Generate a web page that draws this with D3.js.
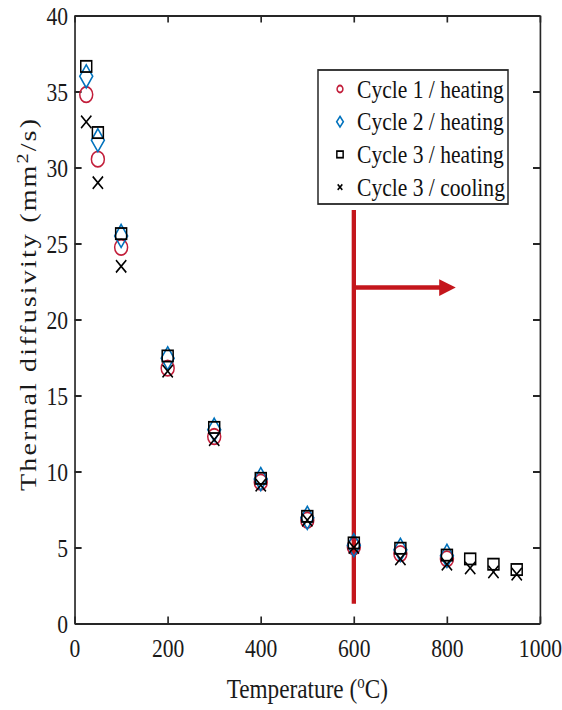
<!DOCTYPE html>
<html>
<head>
<meta charset="utf-8">
<script src="https://cdn.jsdelivr.net/npm/d3@7/dist/d3.min.js"></script>
<style>
  html, body { margin: 0; padding: 0; background: #fff; }
  svg { display: block; }
  text { font-family: "Liberation Serif", "Times New Roman", serif; }
</style>
</head>
<body>
<svg id="chart" width="562" height="710"></svg>
<script>
// ---------- data ----------
const temps = [25, 50, 100, 200, 300, 400, 500, 600, 700, 800];
const temps3 = [25, 50, 100, 200, 300, 400, 500, 600, 700, 800, 850, 900, 950];
const cycle1Heating = [34.8, 30.55, 24.75, 16.8, 12.3, 9.3, 6.8, 5.05, 4.6, 4.25];
const cycle2Heating = [36.0, 31.8, 25.5, 17.45, 12.75, 9.5, 6.95, 5.15, 4.85, 4.45];
const cycle3Heating = [36.65, 32.3, 25.65, 17.6, 12.9, 9.55, 7.05, 5.3, 4.95, 4.5, 4.25, 3.9, 3.55];
const cycle3Cooling = [33.0, 29.0, 23.5, 16.6, 12.1, 9.1, 6.8, 5.0, 4.25, 3.9, 3.65, 3.4, 3.25];
const xTicks = [0, 200, 400, 600, 800, 1000];
const yTicks = [0, 5, 10, 15, 20, 25, 30, 35, 40];
const seriesNames = ["Cycle 1 / heating", "Cycle 2 / heating", "Cycle 3 / heating", "Cycle 3 / cooling"];
// annotation arrow (data units): vertical line at 600 °C, horizontal arrow pointing right
const arrowSpec = [600, 1.3, 27.2, 22.1, 819];

function drawChart() {
  var SX = 0.83; // horizontal squeeze of the reference picture
  var AXC = "#262626";
  var RED = "#c21e3a";
  var BLUE = "#0072bd";
  var ARED = "#c4161c";
  var FONT = '"Liberation Serif", "Times New Roman", serif';

  var svg = d3.select("#chart");
  var g = svg.append("g").attr("transform", "scale(" + SX + ",1)");

  var x = d3.scaleLinear().domain([0, 1000]).range([74.6 / SX, 540 / SX]);
  var y = d3.scaleLinear().domain([0, 40]).range([623.5, 15.5]);
  var fmt = d3.format("d");

  var axB = g.append("g").attr("transform", "translate(0," + y(0) + ")")
    .call(d3.axisBottom(x).tickValues(xTicks).tickFormat(fmt).tickSizeInner(-7).tickSizeOuter(0).tickPadding(15));
  var axT = g.append("g").attr("transform", "translate(0," + y(40) + ")")
    .call(d3.axisTop(x).tickValues(xTicks).tickSizeInner(-7).tickSizeOuter(0).tickFormat(function () { return ""; }));
  var axL = g.append("g").attr("transform", "translate(" + x(0) + ",0)")
    .call(d3.axisLeft(y).tickValues(yTicks).tickFormat(fmt).tickSizeInner(-7 / SX).tickSizeOuter(0).tickPadding(8));
  var axR = g.append("g").attr("transform", "translate(" + x(1000) + ",0)")
    .call(d3.axisRight(y).tickValues(yTicks).tickSizeInner(-7 / SX).tickSizeOuter(0).tickFormat(function () { return ""; }));

  [axB, axT, axL, axR].forEach(function (a) {
    a.attr("font-family", FONT).attr("font-size", 26);
    a.select(".domain").attr("stroke", AXC).attr("stroke-width", 2);
    a.selectAll(".tick line").attr("stroke", AXC).attr("stroke-width", 2);
    a.selectAll(".tick text").attr("fill", "#1a1a1a");
  });
  axL.selectAll(".tick text").attr("dy", "0.34em");

  // axis labels
  var xl = g.append("text")
    .attr("x", (x(0) + x(1000)) / 2)
    .attr("y", 698)
    .attr("text-anchor", "middle")
    .attr("font-family", FONT)
    .attr("font-size", 28)
    .attr("fill", "#1a1a1a");
  xl.append("tspan").text("Temperature (");
  xl.append("tspan").text("o").attr("font-size", 18).attr("dy", -10);
  xl.append("tspan").text("C)").attr("dy", 10);

  var yl = g.append("text")
    .attr("transform", "translate(" + (36 / SX) + ",305) rotate(-90)")
    .attr("text-anchor", "middle")
    .attr("font-family", FONT)
    .attr("font-size", 28)
    .attr("fill", "#1a1a1a")
    .attr("textLength", 372)
    .attr("lengthAdjust", "spacing");
  yl.append("tspan").text("Thermal diffusivity (mm");
  yl.append("tspan").text("2").attr("font-size", 20).attr("dy", -10);
  yl.append("tspan").text("/s)").attr("dy", 10);

  function drawCircle(sel, r, color) {
    sel.append("circle").attr("r", r).attr("fill", "none").attr("stroke", color).attr("stroke-width", 1.8);
  }
  function drawDiamond(sel, hw, hh, color) {
    sel.append("path").attr("d", "M0," + (-hh) + "L" + hw + ",0L0," + hh + "L" + (-hw) + ",0Z")
      .attr("fill", "none").attr("stroke", color).attr("stroke-width", 1.8);
  }
  function drawSquare(sel, hw, hh, color) {
    sel.append("rect").attr("x", -hw).attr("y", -hh).attr("width", 2 * hw).attr("height", 2 * hh)
      .attr("fill", "none").attr("stroke", color).attr("stroke-width", 1.8);
  }
  function drawCross(sel, h, color) {
    sel.append("path").attr("d", "M" + (-h) + "," + (-h) + "L" + h + "," + h + "M" + (-h) + "," + h + "L" + h + "," + (-h))
      .attr("fill", "none").attr("stroke", color).attr("stroke-width", 1.8);
  }

  // annotation arrow
  var ax0 = arrowSpec[0], ay0 = arrowSpec[1], ay1 = arrowSpec[2], ahy = arrowSpec[3], atip = arrowSpec[4];
  var arrG = g.append("g");
  arrG.append("line")
    .attr("x1", x(ax0)).attr("x2", x(ax0))
    .attr("y1", y(ay0)).attr("y2", y(ay1))
    .attr("stroke", ARED).attr("stroke-width", 5.2);
  var headLen = 20;
  arrG.append("line")
    .attr("x1", x(ax0)).attr("x2", x(atip) - headLen + 2)
    .attr("y1", y(ahy)).attr("y2", y(ahy))
    .attr("stroke", ARED).attr("stroke-width", 4.5);
  arrG.append("path")
    .attr("d", "M" + x(atip) + "," + y(ahy) + "L" + (x(atip) - headLen) + "," + (y(ahy) - 8.3) + "L" + (x(atip) - headLen) + "," + (y(ahy) + 8.3) + "Z")
    .attr("fill", ARED);

  // data marks
  var s1 = temps.map(function (t, i) { return { t: t, v: cycle1Heating[i] }; });
  var s2 = temps.map(function (t, i) { return { t: t, v: cycle2Heating[i] }; });
  var s3 = temps3.map(function (t, i) { return { t: t, v: cycle3Heating[i] }; });
  var s4 = temps3.map(function (t, i) { return { t: t, v: cycle3Cooling[i] }; });
  function pos(d) { return "translate(" + x(d.t) + "," + y(d.v) + ")"; }

  g.append("g").selectAll("g").data(s1).join("g").attr("transform", pos)
    .each(function () { drawCircle(d3.select(this), 7.8, RED); });
  g.append("g").selectAll("g").data(s2).join("g").attr("transform", pos)
    .each(function () { drawDiamond(d3.select(this), 7.8, 11.5, BLUE); });
  g.append("g").selectAll("g").data(s3).join("g").attr("transform", pos)
    .each(function () { drawSquare(d3.select(this), 6.6, 5.6, "#000"); });
  g.append("g").selectAll("g").data(s4).join("g").attr("transform", pos)
    .each(function () { drawCross(d3.select(this), 6.2, "#000"); });

  // legend
  var lg = g.append("g");
  lg.append("rect")
    .attr("x", 318 / SX).attr("y", 70)
    .attr("width", (508 - 318) / SX).attr("height", 134)
    .attr("fill", "#fff").attr("stroke", AXC).attr("stroke-width", 1.8);
  seriesNames.forEach(function (name, i) {
    var ry = 89 + i * 32.7;
    var row = lg.append("g").attr("transform", "translate(" + (340 / SX) + "," + ry + ")");
    if (i === 0) drawCircle(row, 3.5, RED);
    if (i === 1) drawDiamond(row, 4, 5.3, BLUE);
    if (i === 2) drawSquare(row, 3.8, 3.3, "#000");
    if (i === 3) drawCross(row, 2.8, "#000");
    lg.append("text")
      .attr("x", 357 / SX).attr("y", ry).attr("dy", "0.33em")
      .attr("font-family", FONT).attr("font-size", 26).attr("fill", "#111")
      .text(name);
  });
}
drawChart();
</script>
</body>
</html>
